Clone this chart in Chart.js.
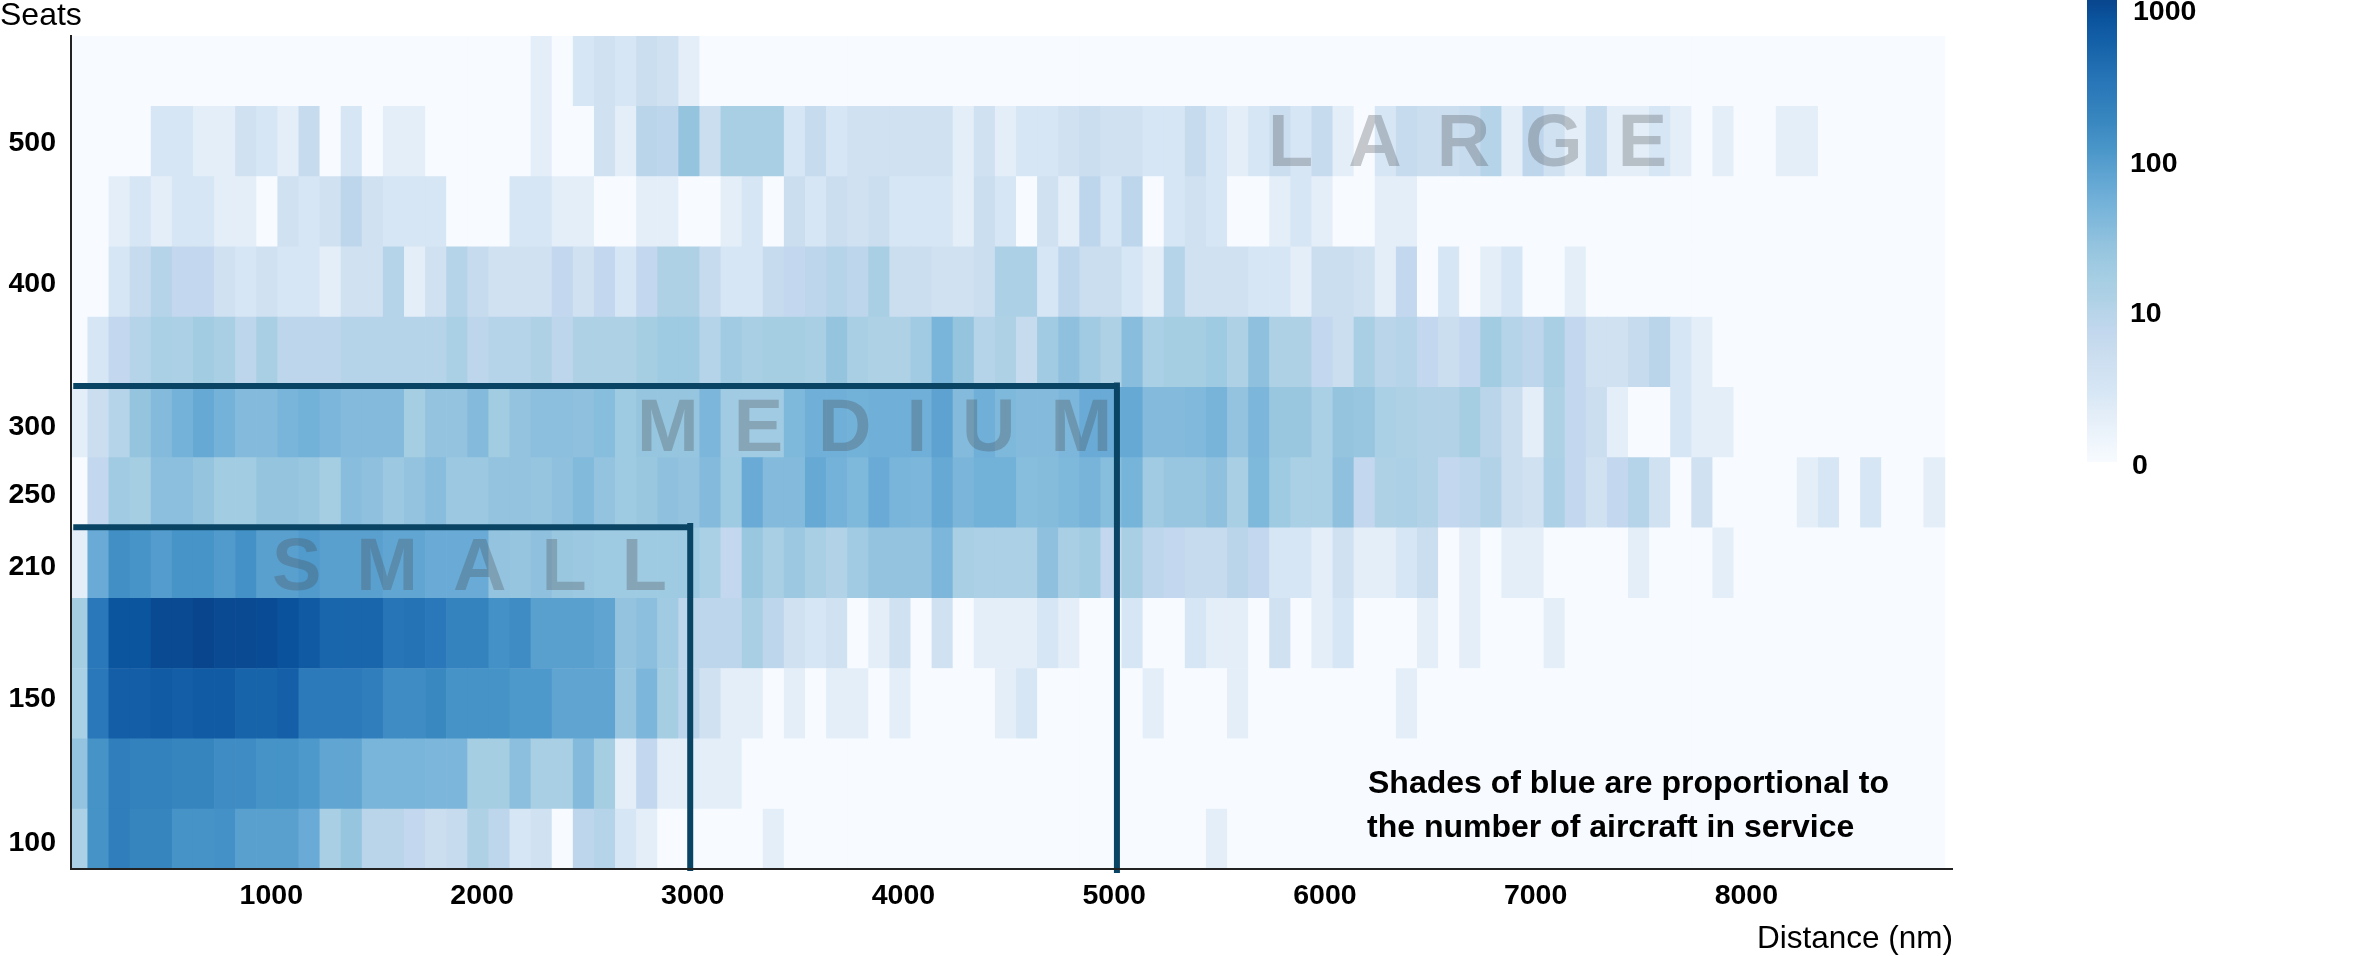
<!DOCTYPE html>
<html>
<head>
<meta charset="utf-8">
<style>html,body{margin:0;padding:0;background:#fff}canvas{display:block}</style>
<script src="https://cdn.jsdelivr.net/npm/chart.js@4/dist/chart.umd.min.js"></script>
</head>
<body>
<canvas id="c" width="2374" height="956"></canvas>
<script>
// Aircraft in service per (seats row, 100 nm distance bin).
const row0 = [12,125,240,190,190,125,125,130,85,85, 85,62,14,24,8,8,6,4,5,11, 7,2,3,0,7,9,2,1,0,0, 0,0,0,1,0,0,0,0,0,0, 0,0,0,0,0,0,0,0,0,0, 0,0,0,0,1];
const row1 = [26,125,240,210,210,190,190,150,150,125, 125,105,72,72,45,45,45,42,42,15, 15,30,14,14,35,15,1,6,1,1, 1,1];
const row2 = [13,300,620,620,680,620,680,680,530,530, 600,270,270,270,240,150,150,170,125,125, 125,105,105,75,75,75,23,42,15,7, 3,1,1,0,1,0,1,1,0,1, 0,0,0,0,1,2,0,0,0,0, 0,1,0,0,0,1,0,0,0,0, 0,0,0,1];
const row3 = [15,300,800,800,1000,1000,1100,1000,1000,950, 850,700,500,500,500,330,350,300,200,200, 130,150,85,85,85,75,26,30,18,7, 7,7,14,7,3,2,3,0,1,3, 0,3,0,1,1,1,2,1,0,0, 2,0,0,2,1,1,0,3,0,1, 2,0,0,0,1,0,1,0,0,0, 1];
const row4 = [1,62,140,120,95,120,120,100,130,85, 85,100,85,85,85,72,72,62,62,62, 26,24,28,22,20,19,19,19,19,19, 13,6,22,14,20,14,10,18,26,26, 26,42,14,12,12,12,28,14,17,6, 14,7,6,5,5,8,6,2,2,1, 3,1,1,2,4,0,1,0,1,1, 0,0,0,0,1,0,0,0,1];
const row5 = [0,6,18,15,30,30,25,17,17,25, 25,22,15,32,28,20,26,32,20,20, 26,26,24,28,37,26,19,22,28,26, 35,19,62,35,35,65,50,40,62,45, 42,65,43,52,52,33,34,40,46,33, 47,18,23,23,28,14,40,19,13,13, 28,6,11,12,10,6,7,10,4,3, 12,6,3,6,9,3,0,3,0,0, 0,0,1,2,0,2,0,0,1];
const row6 = [1,4,9,25,35,50,65,50,35,35, 45,52,42,35,35,35,15,26,26,35, 17,26,30,30,28,33,19,24,24,24, 42,18,18,18,40,55,55,52,55,55, 55,80,35,55,40,35,35,42,62,62, 65,35,35,38,46,26,42,22,22,13, 25,23,13,11,10,10,15,8,4,1, 11,6,4,1,0,0,2,1,1];
const row7 = [0,2,6,9,13,12,17,14,7,14, 7,7,7,9,9,9,9,9,13,7, 9,9,11,7,11,11,11,15,19,19, 9,18,14,15,15,14,25,14,11,11, 18,45,25,9,11,5,18,28,18,11, 32,13,15,15,19,11,28,11,11,6, 4,14,8,9,6,4,6,17,9,7, 14,6,3,3,5,8,2,1];
const row8 = [0,0,2,5,9,6,6,3,2,3, 2,2,1,3,3,9,1,3,9,5, 3,3,3,6,3,6,2,6,11,11, 5,2,2,5,6,7,9,7,14,4, 4,3,3,4,12,12,2,7,4,4, 2,1,9,3,3,3,2,2,1,4, 4,3,1,6,0,2,0,1,2,0, 0,1];
const row9 = [0,0,1,2,1,2,2,1,1,0, 3,2,3,7,3,2,2,2,0,0, 0,2,2,1,1,0,0,1,1,0, 0,1,2,0,4,2,4,3,4,2, 2,2,1,4,2,0,3,1,7,2, 7,0,2,3,2,0,0,1,2,1, 0,0,1,1];
const row10 = [0,0,0,0,2,2,1,1,3,2, 1,5,0,2,0,1,1,0,0,0, 0,0,1,0,0,3,1,8,7,25, 4,14,14,14,2,5,2,3,3,3, 3,3,1,3,1,2,2,3,4,3, 3,2,2,5,2,1,2,4,2,5, 1,0,2,5,4,4,5,9,1,7, 3,1,5,1,1,2,1,0,1,0, 0,1,1];
const row11 = [0,0,0,0,0,0,0,0,0,0, 0,0,0,0,0,0,0,0,0,0, 0,0,1,0,2,3,2,4,3,1];
const rows = [row0,row1,row2,row3,row4,row5,row6,row7,row8,row9,row10,row11];

const binCount = 89;
const firstBinCentre = 79;
const binWidth = 100.15;

const xTickValues = [1000,2000,3000,4000,5000,6000,7000,8000];
const yTickLabels = ['100','150','210','250','300','400','500'];
const yTickRows = [0.51,2.56,4.44,5.47,6.44,8.47,10.48];
const legendTicks = ['1000','100','10','0'];
const noteLines = ['Shades of blue are proportional to','the number of aircraft in service'];

const rampCounts = [0,1,2,3,4,5,6,7,9,11,14,18,25,35,50,65,85,120,170,300,500,800,1100];
const rampColours = ['#f7fbff','#e4eef8','#d6e6f5','#d0e1f2','#cbdef0','#c7dbee','#c3d8ee','#bed6ec','#b6d4e9','#aed1e6','#a8cfe4','#a0cbe2','#95c4df','#84bbdc','#74b2d9','#66a9d5','#5aa0cf','#4694c8','#3a88c0','#2a77b9','#1966ac','#0b559f','#08458d'];

function hex(c){return [1,3,5].map(i=>parseInt(c.substr(i,2),16));}
function colourFor(v){
  let i=0;
  while(i<rampCounts.length-2 && v>rampCounts[i+1]) i++;
  const a=Math.log1p(rampCounts[i]),b=Math.log1p(rampCounts[i+1]);
  const t=Math.min(1,(Math.log1p(v)-a)/(b-a));
  const ca=hex(rampColours[i]),cb=hex(rampColours[i+1]);
  return 'rgb('+ca.map((x,j)=>Math.round(x+(cb[j]-x)*t)).join(',')+')';
}

const datasets = rows.map((row,r)=>{
  const values = Array.from({length:binCount},(_,k)=>row[k]||0);
  return {
    type:'bar', order:5, borderWidth:0, barPercentage:1, categoryPercentage:1, grouped:false,
    data: values.map((_,k)=>({x:firstBinCentre+binWidth*k,y:[r,r+1]})),
    backgroundColor: values.map(colourFor)
  };
});

const boxColour='#0a4464';
function boxLine(pts){return {type:'line',order:1,data:pts,borderColor:boxColour,borderWidth:6,pointRadius:0,clip:false,borderCapStyle:'butt',tension:0};}
datasets.push(boxLine([{x:60,y:5.01},{x:2988,y:5.01}]));
datasets.push(boxLine([{x:2988,y:5.07},{x:2988,y:0.12}]));
datasets.push(boxLine([{x:60,y:7.02},{x:5013,y:7.02}]));
datasets.push(boxLine([{x:5013,y:7.07},{x:5013,y:0.09}]));

const overlay = {
  id:'overlay',
  afterDatasetsDraw(ch){
    const c=ch.ctx; c.save();
    // zone names
    c.font='bold 74px "Liberation Sans"'; c.letterSpacing='35px';
    c.fillStyle='rgba(73,77,80,0.29)'; c.textBaseline='alphabetic'; c.textAlign='left';
    c.fillText('SMALL',272,590);
    c.fillText('MEDIUM',637,451);
    c.fillText('LARGE',1268,166);
    c.letterSpacing='0px';
    // note
    c.fillStyle='#000'; c.font='bold 32px "Liberation Sans"';
    c.fillText(noteLines[0],1368,793);
    c.fillText(noteLines[1],1367,837);
    // axis names
    c.font='32px "Liberation Sans"';
    c.fillText('Seats',0,25);
    c.font='31.5px "Liberation Sans"';
    c.textAlign='right';
    c.fillText('Distance (nm)',1953,948);
    c.textAlign='left';
    // colour bar
    const top=0,bottom=462,left=2087,right=2117;
    const g=c.createLinearGradient(0,bottom,0,top);
    const maxLog=Math.log1p(rampCounts[rampCounts.length-1]);
    rampCounts.forEach((v,i)=>g.addColorStop(Math.log1p(v)/maxLog,rampColours[i]));
    c.fillStyle=g; c.fillRect(left,top,right-left,bottom-top);
    c.fillStyle='#000'; c.font='bold 28.5px "Liberation Sans"'; c.textBaseline='middle';
    c.fillText(legendTicks[0],2133,12);
    c.fillText(legendTicks[1],2130,164);
    c.fillText(legendTicks[2],2130,314);
    c.fillText(legendTicks[3],2132,466);
    c.restore();
  }
};

new Chart(document.getElementById('c'),{
  type:'bar',
  data:{datasets},
  plugins:[overlay],
  options:{
    responsive:false, animation:false, events:[],
    layout:{padding:{top:36,right:422,left:0,bottom:0}},
    plugins:{legend:{display:false},tooltip:{enabled:false},title:{display:false}},
    scales:{
      x:{
        type:'linear', offset:false, min:49.4, max:8976, position:'bottom',
        grid:{display:false,offset:false,drawTicks:false},
        border:{display:true,color:'#222',width:2,z:2},
        afterBuildTicks(s){s.ticks=xTickValues.map(v=>({value:v}));},
        afterFit(s){s.height=87;},
        ticks:{autoSkip:false,maxRotation:0,color:'#000',padding:10,
          font:{family:'"Liberation Sans"',size:28.5,weight:'bold'},
          callback:v=>String(v)}
      },
      y:{
        type:'linear', min:0.147, max:12,
        grid:{display:false,drawTicks:false},
        border:{display:true,color:'#222',width:2,z:2},
        afterBuildTicks(s){s.ticks=yTickRows.map(v=>({value:v}));},
        afterFit(s){s.width=71;},
        ticks:{autoSkip:false,color:'#000',padding:15,
          font:{family:'"Liberation Sans"',size:28.5,weight:'bold'},
          callback:v=>yTickLabels[yTickRows.indexOf(v)]}
      }
    }
  }
});
</script>
</body>
</html>
